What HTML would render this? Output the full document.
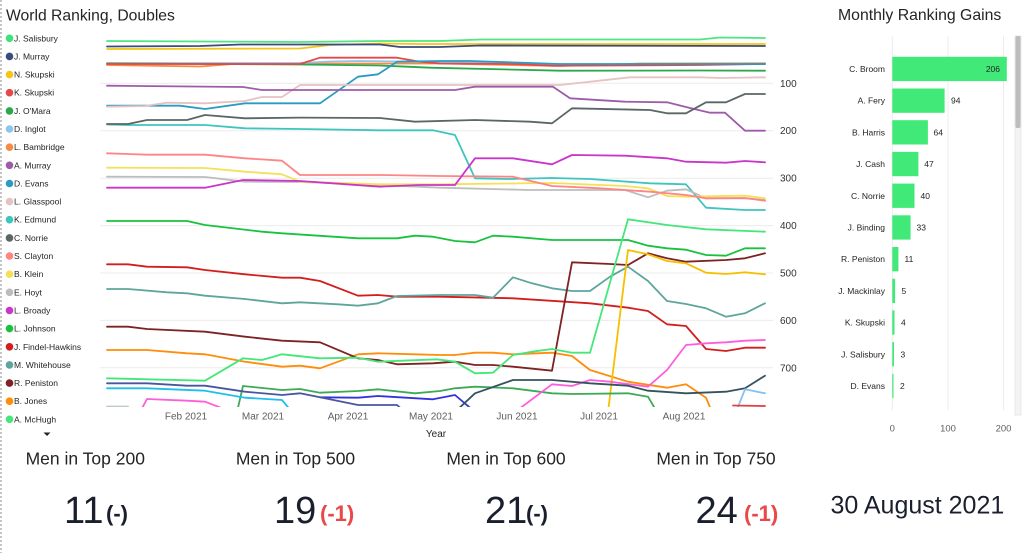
<!DOCTYPE html>
<html>
<head>
<meta charset="utf-8">
<style>
  html,body{margin:0;padding:0;background:#ffffff;}
  svg{display:block;}
  text{font-family:"Liberation Sans", Arial, sans-serif;}
</style>
</head>
<body>
<svg width="1024" height="553" viewBox="0 0 1024 553" xmlns="http://www.w3.org/2000/svg">
  <rect x="0" y="0" width="1024" height="553" fill="#ffffff"/>
  <!-- dashed left border -->
  <line x1="1" y1="0" x2="1" y2="553" stroke="#8a8a8a" stroke-width="1" stroke-dasharray="2,2"/>

  <!-- Titles -->
  <text x="6" y="20.5" font-size="15.7" fill="#252423">World Ranking, Doubles</text>
  <text x="838" y="20" font-size="15.8" fill="#252423">Monthly Ranking Gains</text>

  <!-- Legend -->
  <g font-size="8.5" fill="#252423">
    <circle cx="9.5" cy="38.3" r="3.8" fill="#3EE27A"/><text x="14" y="41.3">J. Salisbury</text>
    <circle cx="9.5" cy="56.4" r="3.8" fill="#3A4B7C"/><text x="14" y="59.4">J. Murray</text>
    <circle cx="9.5" cy="74.6" r="3.8" fill="#F5C518"/><text x="14" y="77.6">N. Skupski</text>
    <circle cx="9.5" cy="92.7" r="3.8" fill="#E8474A"/><text x="14" y="95.7">K. Skupski</text>
    <circle cx="9.5" cy="110.9" r="3.8" fill="#2BA84A"/><text x="14" y="113.9">J. O'Mara</text>
    <circle cx="9.5" cy="129" r="3.8" fill="#8CC6EE"/><text x="14" y="132">D. Inglot</text>
    <circle cx="9.5" cy="147.2" r="3.8" fill="#F58B45"/><text x="14" y="150.2">L. Bambridge</text>
    <circle cx="9.5" cy="165.3" r="3.8" fill="#9E5CA8"/><text x="14" y="168.3">A. Murray</text>
    <circle cx="9.5" cy="183.5" r="3.8" fill="#2A9BC1"/><text x="14" y="186.5">D. Evans</text>
    <circle cx="9.5" cy="201.6" r="3.8" fill="#E6C2C2"/><text x="14" y="204.6">L. Glasspool</text>
    <circle cx="9.5" cy="219.7" r="3.8" fill="#3EC5BE"/><text x="14" y="222.7">K. Edmund</text>
    <circle cx="9.5" cy="237.9" r="3.8" fill="#5B6667"/><text x="14" y="240.9">C. Norrie</text>
    <circle cx="9.5" cy="256" r="3.8" fill="#FF8585"/><text x="14" y="259">S. Clayton</text>
    <circle cx="9.5" cy="274.2" r="3.8" fill="#F5E05A"/><text x="14" y="277.2">B. Klein</text>
    <circle cx="9.5" cy="292.3" r="3.8" fill="#BDBDBD"/><text x="14" y="295.3">E. Hoyt</text>
    <circle cx="9.5" cy="310.5" r="3.8" fill="#C936C9"/><text x="14" y="313.5">L. Broady</text>
    <circle cx="9.5" cy="328.6" r="3.8" fill="#19C23E"/><text x="14" y="331.6">L. Johnson</text>
    <circle cx="9.5" cy="346.8" r="3.8" fill="#D21E1E"/><text x="14" y="349.8">J. Findel-Hawkins</text>
    <circle cx="9.5" cy="364.9" r="3.8" fill="#5EA59D"/><text x="14" y="367.9">M. Whitehouse</text>
    <circle cx="9.5" cy="383.1" r="3.8" fill="#7D2323"/><text x="14" y="386.1">R. Peniston</text>
    <circle cx="9.5" cy="401.2" r="3.8" fill="#FF8C0A"/><text x="14" y="404.2">B. Jones</text>
    <circle cx="9.5" cy="419.3" r="3.8" fill="#45E67A"/><text x="14" y="422.3">A. McHugh</text>
  </g>
  <polygon points="43.5,432.5 50.5,432.5 47,436" fill="#252423"/>

  <!-- Gridlines -->
  <g stroke="#ECECEC" stroke-width="1">
    <line x1="100" y1="83.3" x2="773" y2="83.3"/>
    <line x1="100" y1="130.7" x2="773" y2="130.7"/>
    <line x1="100" y1="178.2" x2="773" y2="178.2"/>
    <line x1="100" y1="225.6" x2="773" y2="225.6"/>
    <line x1="100" y1="273" x2="773" y2="273"/>
    <line x1="100" y1="320.4" x2="773" y2="320.4"/>
    <line x1="100" y1="367.8" x2="773" y2="367.8"/>
  </g>
  <g font-size="10" fill="#333333">
    <text x="780" y="86.8">100</text>
    <text x="780" y="134.2">200</text>
    <text x="780" y="181.7">300</text>
    <text x="780" y="229.1">400</text>
    <text x="780" y="276.5">500</text>
    <text x="780" y="323.9">600</text>
    <text x="780" y="371.3">700</text>
  </g>

  <!-- X axis labels -->
  <g font-size="10" fill="#605E5C" text-anchor="middle">
    <text x="186" y="419.3">Feb 2021</text>
    <text x="263" y="419.3">Mar 2021</text>
    <text x="348" y="419.3">Apr 2021</text>
    <text x="431" y="419.3">May 2021</text>
    <text x="517" y="419.3">Jun 2021</text>
    <text x="599" y="419.3">Jul 2021</text>
    <text x="684" y="419.3">Aug 2021</text>
    <text x="436" y="437" fill="#252423">Year</text>
  </g>

  <defs>
    <clipPath id="plot"><rect x="100" y="30" width="675" height="377"/></clipPath>
  </defs>

  <g clip-path="url(#plot)" fill="none" stroke-width="1.8" stroke-linejoin="round" stroke-linecap="round">
    <!-- top cluster -->
    <polyline stroke="#F58B45" points="107,65 200,66.5 240,63.5 440,63.5 560,66 640,63.5 765,63.3"/>
    <polyline stroke="#8CC6EE" points="107,63 300,63 330,61.5 360,61 440,62 580,65 765,64"/>
    <polyline stroke="#2BA84A" points="107,63.5 300,64.5 380,65.5 430,67.7 560,70.7 700,70.5 765,70.7"/>
    <polyline stroke="#E8474A" points="107,64 300,64 320,57.7 397,57.7 420,61.7 440,63.5 513,64 552,65.7 700,65 765,64"/>
    <polyline stroke="#F5C518" points="107,49 300,48.5 330,45 380,43.5 420,44 765,44"/>
    <polyline stroke="#3A4B7C" points="107,46.5 200,46 240,44.5 380,44.5 400,47 440,47 480,45.5 765,46"/>
    <polyline stroke="#4DE680" points="107,41 300,42 380,41 440,41 480,39.5 700,39.5 720,37.5 765,38"/>
    <polyline stroke="#2A9BC1" points="107,105.7 180,105.7 205,109 245,103.3 320,103.3 358,76.7 378,74.3 397,61.7 440,61 470,61 560,64 765,64"/>
    <polyline stroke="#E6C2C2" points="107,106.7 145,106 167,102.7 205,103.3 245,101 262,97 282,97 300,85 560,85 630,77.3 700,77.3 720,78 765,77.3"/>
    <polyline stroke="#9E5CA8" points="107,85.7 243,87 262,90 455,90 475,86.7 553,86.7 570,98.3 625,101.7 667,102.3 690,108 710,112.7 725,112.7 745,130.7 765,130.7"/>
    <polyline stroke="#3EC5BE" points="107,124.5 128,125 205,125 245,128.3 300,129 380,130.3 433,130.3 455,135 475,178.3 510,179 552,178 590,179 650,183.3 686,184.3 706,207.7 745,210 765,210"/>
    <polyline stroke="#5B6667" points="107,124 128,124 147,120 187,120 205,115 245,118.3 300,117.6 380,118 415,121.7 475,120 530,121.7 552,123.3 572,108.3 650,110 667,113.3 686,113.3 706,102.3 726,102.3 745,94 765,94"/>
    <!-- 150-250 -->
    <polyline stroke="#BDBDBD" points="107,176.7 205,177 245,181.7 300,182 380,185 440,187.7 530,190 625,190 648,197.3 667,190.7 686,189.3 706,198.3 745,198.3 765,200"/>
    <polyline stroke="#F5E05A" points="107,167.7 205,168 245,171.7 282,174.3 300,181.7 380,184.3 440,184.3 552,183 625,186 648,188.3 667,196 686,196.7 745,195.7 765,198.3"/>
    <polyline stroke="#FF8585" points="107,153.3 147,154.7 205,154.7 245,158.3 282,160.7 300,175 380,175 440,176 513,176.7 552,186 600,188.3 650,191.7 686,195 706,198.3 745,198 765,200.7"/>
    <polyline stroke="#C936C9" points="107,187.7 205,187.7 243,180 300,181 380,186.7 420,185 455,185 475,158.3 513,158.3 552,164.3 572,155 625,155.7 667,158.3 686,161.7 726,162.7 745,161 765,162.3"/>
    <polyline stroke="#19C23E" points="107,221 187,221 205,225 262,231.7 282,233.3 358,238.3 397,238.3 415,235.7 433,236.7 455,241 475,242.3 493,235.7 513,236.7 552,240 628,240 648,245.7 667,248.3 686,249.7 706,255 726,255.7 745,248.3 765,248.3"/>
    <!-- lower -->
    <polyline stroke="#D21E1E" points="107,264.3 128,264.3 147,266.7 187,267.3 205,270 245,274.3 282,277.7 300,277.7 320,281 358,295.7 378,295 397,296.7 440,296.7 513,298.3 590,303.3 628,307.7 648,311 667,324.3 686,326 706,349 726,351 745,347.7 765,347.7"/>
    <polyline stroke="#5EA59D" points="107,289 128,289 167,292.3 187,293.3 205,295.7 245,299 282,303.3 300,302.3 338,304.3 358,305.7 378,303.3 397,296 440,295 475,295 493,297.7 513,277.3 532,283.3 552,288.3 572,291 590,291 610,276.7 628,266.7 648,281 667,301 686,304 706,308.3 726,316.7 745,313.3 765,303.3"/>
    <polyline stroke="#FF8C0A" points="107,350 147,350 187,353.3 205,354.3 245,361.7 282,366.7 300,365.7 320,368.3 358,354.3 378,353.3 415,354.3 440,355 455,355 475,352.7 493,352.7 513,354.3 552,352.7 572,356 590,370 628,381.7 667,387.7 686,384.3 706,397.7 712,412"/>
    <polyline stroke="#7D2323" points="107,326.7 128,326.7 147,329 205,331.7 245,336.7 282,340.7 320,342.3 358,358.3 378,360 397,364.3 433,363.3 455,361.7 475,365 493,365 513,366.7 552,370.7 572,262.3 610,264 628,265 648,253.3 667,258.3 686,261.7 726,260 745,258.3 765,253.3"/>
    <polyline stroke="#45E67A" points="107,378.3 205,380.7 243,358.3 262,360 282,354.3 320,358.3 358,357.7 378,361.7 437,359.3 455,361.7 475,373.3 493,372.7 513,355 532,351.7 552,349 572,352.7 590,352.7 628,219.3 667,225 706,229.3 765,231.7"/>
    <polyline stroke="#F5C000" points="608,412 628,250 648,254.3 667,261 686,263.3 706,272.7 726,274 745,272.3 765,274.3"/>
    <polyline stroke="#3DAA55" points="237,412 243,386 282,390 300,389 320,392.7 358,391 378,389.3 415,393.3 440,391 455,388.3 475,386.7 513,388.3 552,393.3 572,394 628,393.3 648,396.7 657,412"/>
    <polyline stroke="#3333DD" points="320,397.3 358,397.7 378,396 433,399.3 455,395 475,412"/>
    <polyline stroke="#4A55A0" points="107,383.3 147,383.3 187,385.7 205,385.7 245,391.7 282,395 300,393.3 320,397.3 358,405 397,405 405,412"/>
    <polyline stroke="#1EBFF0" points="107,388.3 147,388.3 205,390.7 245,397.7 282,400 292,412"/>
    <polyline stroke="#FF5EDB" points="140,412 147,399 187,400.7 205,401.7 232,412"/>
    <polyline stroke="#FF5EDB" points="515,412 552,384.3 572,386 590,380 610,381.7 648,386.7 667,370 686,345 706,343.3 726,342.3 745,340.7 765,340"/>
    <polyline stroke="#34535F" points="455,412 475,393.3 513,380 552,380 590,383.3 628,385.7 648,390.7 686,393.3 726,391.7 745,388.3 765,375.7"/>
    <polyline stroke="#85C1F0" points="736,412 745,389.3 765,393.3"/>
    <polyline stroke="#E04040" points="733,405.5 765,406"/>
    <polyline stroke="#BFC7C7" points="107,406.5 128,406.5"/>
  </g>

  <!-- Bar chart -->
  <g stroke="#ECECEC" stroke-width="1">
    <line x1="892.3" y1="36" x2="892.3" y2="410"/>
    <line x1="948" y1="36" x2="948" y2="410"/>
    <line x1="1003.5" y1="36" x2="1003.5" y2="410"/>
  </g>
  <g fill="#41EA78">
    <rect x="892.3" y="56.8" width="114.5" height="24.3"/>
    <rect x="892.3" y="88.5" width="52.3" height="24.3"/>
    <rect x="892.3" y="120.2" width="35.6" height="24.3"/>
    <rect x="892.3" y="151.9" width="26.1" height="24.3"/>
    <rect x="892.3" y="183.6" width="22.2" height="24.3"/>
    <rect x="892.3" y="215.3" width="18.3" height="24.3"/>
    <rect x="892.3" y="247" width="6.1" height="24.3"/>
    <rect x="892.3" y="278.7" width="2.8" height="24.3"/>
    <rect x="892.3" y="310.4" width="2.2" height="24.3"/>
    <rect x="892.3" y="342.1" width="1.7" height="24.3"/>
    <rect x="892.3" y="373.8" width="1.2" height="24.3"/>
  </g>
  <g font-size="8.5" fill="#252423" text-anchor="end">
    <text x="885" y="72">C. Broom</text>
    <text x="885" y="103.7">A. Fery</text>
    <text x="885" y="135.4">B. Harris</text>
    <text x="885" y="167.1">J. Cash</text>
    <text x="885" y="198.8">C. Norrie</text>
    <text x="885" y="230.5">J. Binding</text>
    <text x="885" y="262.2">R. Peniston</text>
    <text x="885" y="293.9">J. Mackinlay</text>
    <text x="885" y="325.6">K. Skupski</text>
    <text x="885" y="357.3">J. Salisbury</text>
    <text x="885" y="389">D. Evans</text>
    <text x="1000" y="72">206</text>
  </g>
  <g font-size="8.5" fill="#252423">
    <text x="951" y="103.7">94</text>
    <text x="933.5" y="135.4">64</text>
    <text x="924.3" y="167.1">47</text>
    <text x="920.5" y="198.8">40</text>
    <text x="916.5" y="230.5">33</text>
    <text x="904.5" y="262.2">11</text>
    <text x="901.5" y="293.9">5</text>
    <text x="901" y="325.6">4</text>
    <text x="900.5" y="357.3">3</text>
    <text x="900" y="389">2</text>
  </g>
  <g font-size="9.5" fill="#605E5C" text-anchor="middle">
    <text x="892.3" y="431.5">0</text>
    <text x="948" y="431.5">100</text>
    <text x="1003.5" y="431.5">200</text>
  </g>
  <!-- scrollbar -->
  <rect x="1015" y="36" width="6" height="379" fill="#F4F4F4" stroke="#E4E4E4" stroke-width="0.8"/>
  <rect x="1015.5" y="36" width="5" height="92" rx="1.5" fill="#BDBDBD"/>

  <!-- KPI cards -->
  <g font-size="17.5" fill="#252423" text-anchor="middle">
    <text x="85.3" y="464.5">Men in Top 200</text>
    <text x="295.5" y="464.5">Men in Top 500</text>
    <text x="506" y="464.5">Men in Top 600</text>
    <text x="716" y="464.5">Men in Top 750</text>
  </g>
  <g font-size="38" fill="#1A1F2E">
    <text x="64" y="523">11</text>
    <text x="274" y="523">19</text>
    <text x="485" y="523">21</text>
    <text x="695.5" y="523">24</text>
  </g>
  <g font-size="22" font-weight="bold">
    <text x="106" y="521" fill="#1A1F2E">(-)</text>
    <text x="320" y="521" fill="#E84848">(-1)</text>
    <text x="526" y="521" fill="#1A1F2E">(-)</text>
    <text x="744" y="521" fill="#E84848">(-1)</text>
  </g>
  <text x="830.5" y="513.3" font-size="25" fill="#1A1F2E">30 August 2021</text>
</svg>
</body>
</html>
